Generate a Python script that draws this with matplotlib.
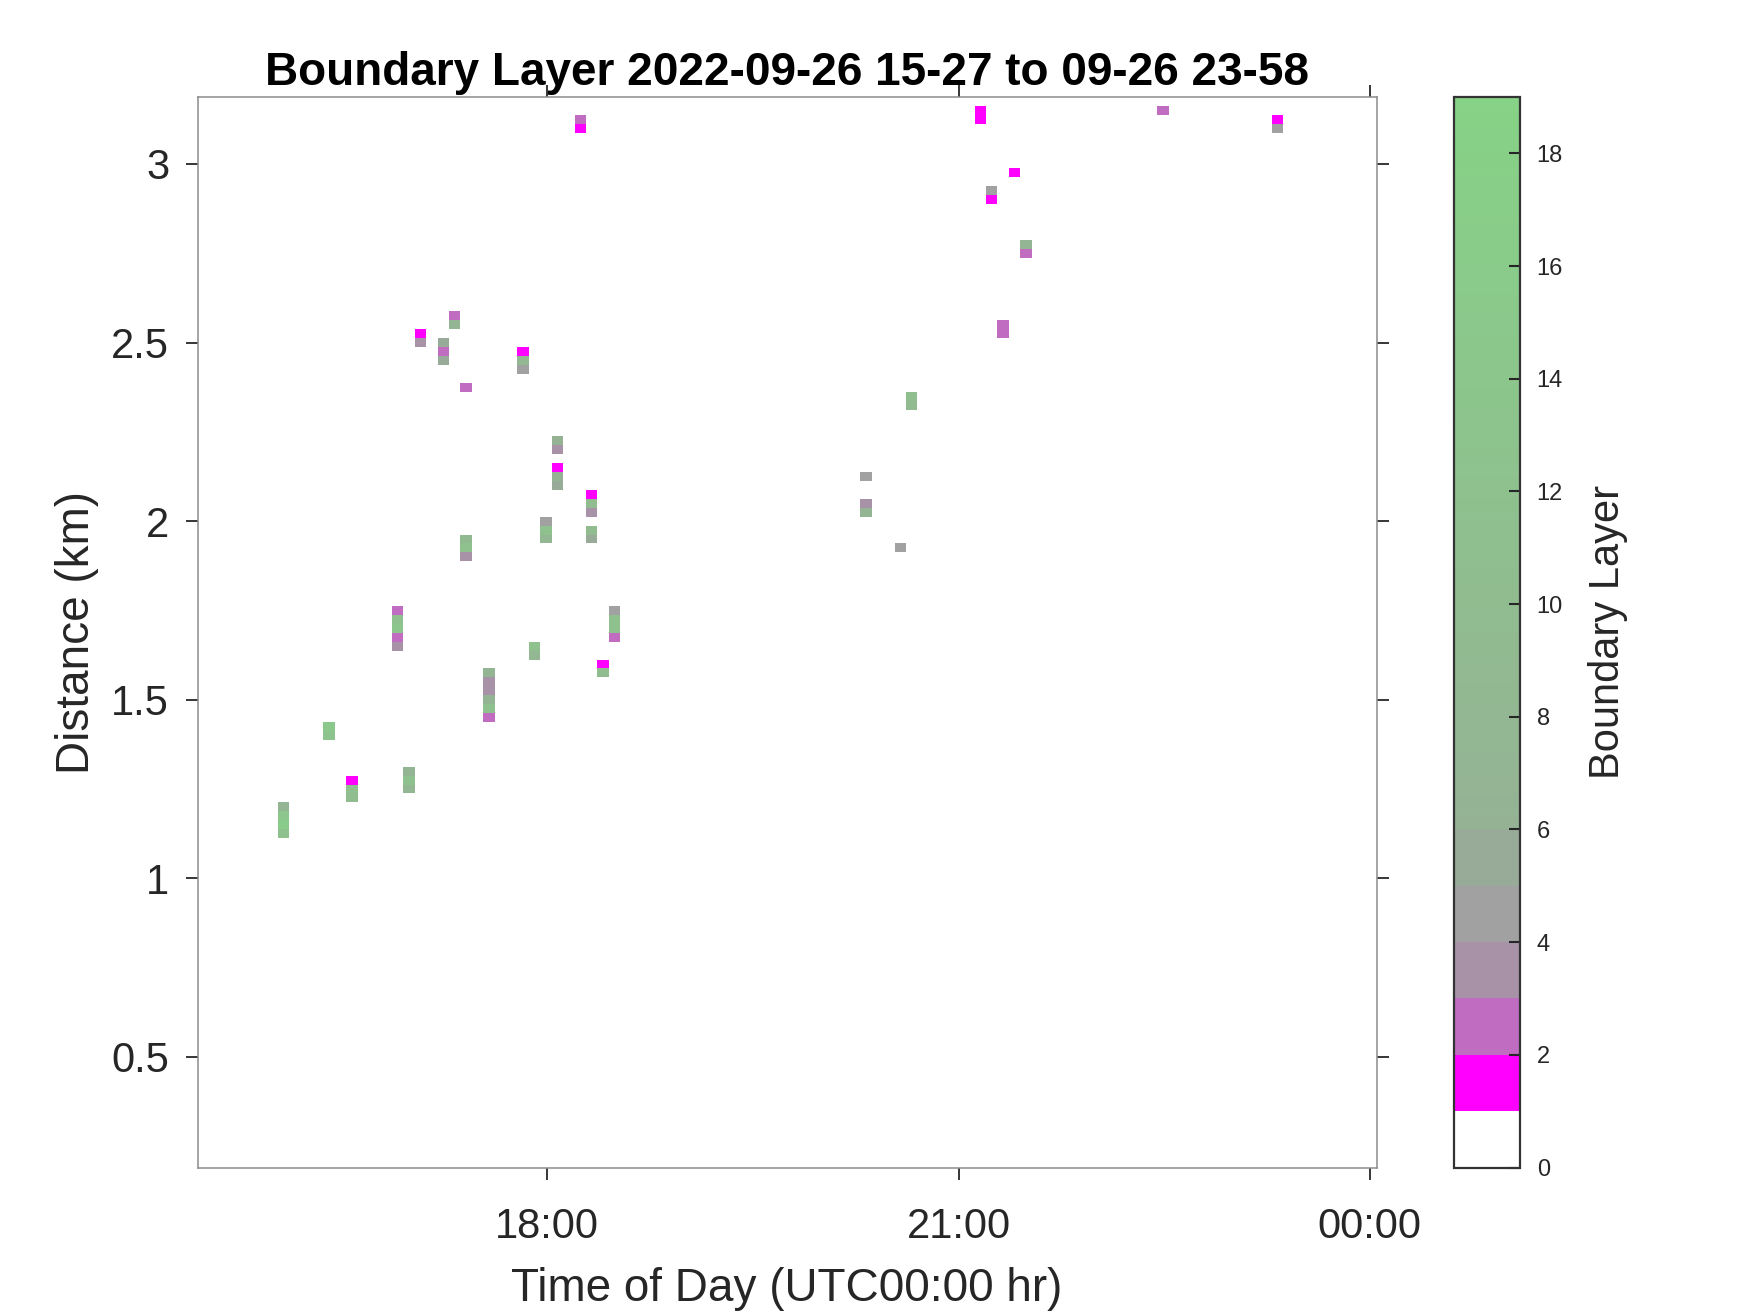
import numpy as np
import matplotlib
matplotlib.use('Agg')
import matplotlib.pyplot as plt
from matplotlib.colors import ListedColormap, Normalize

# ── Data: 5-min time bins (bin start), 25 m range bins (centre), layer value ─
times = ['16:02', '16:02', '16:02', '16:02',
         '16:22', '16:22',
         '16:32', '16:32', '16:32',
         '16:52', '16:52', '16:52', '16:52', '16:52',
         '16:57', '16:57', '16:57',
         '17:02', '17:02',
         '17:12', '17:12', '17:12',
         '17:17', '17:17',
         '17:22', '17:22', '17:22', '17:22',
         '17:32', '17:32', '17:32', '17:32', '17:32', '17:32',
         '17:47', '17:47', '17:47',
         '17:52', '17:52',
         '17:57', '17:57', '17:57',
         '18:02', '18:02', '18:02', '18:02', '18:02',
         '18:12', '18:12',
         '18:17', '18:17', '18:17', '18:17', '18:17',
         '18:22', '18:22',
         '18:27', '18:27', '18:27', '18:27',
         '20:17', '20:17', '20:17',
         '20:32',
         '20:37', '20:37',
         '21:07', '21:07',
         '21:12', '21:12',
         '21:17', '21:17',
         '21:22',
         '21:27', '21:27',
         '22:27',
         '23:17', '23:17']
dist_km = [1.200, 1.175, 1.150, 1.125,
           1.425, 1.400,
           1.275, 1.250, 1.225,
           1.750, 1.725, 1.700, 1.675, 1.650,
           1.300, 1.275, 1.250,
           2.525, 2.500,
           2.500, 2.475, 2.450,
           2.575, 2.550,
           2.375, 1.950, 1.925, 1.900,
           1.575, 1.550, 1.525, 1.500, 1.475, 1.450,
           2.475, 2.450, 2.425,
           1.650, 1.625,
           2.000, 1.975, 1.950,
           2.225, 2.200, 2.150, 2.125, 2.100,
           3.125, 3.100,
           2.075, 2.050, 2.025, 1.975, 1.950,
           1.600, 1.575,
           1.750, 1.725, 1.700, 1.675,
           2.125, 2.050, 2.025,
           1.925,
           2.350, 2.325,
           3.150, 3.125,
           2.925, 2.900,
           2.550, 2.525,
           2.975,
           2.775, 2.750,
           3.150,
           3.125, 3.100]
layer = [7, 14, 16, 12,
         15, 13,
         1, 12, 10,
         2, 12, 14, 2, 3,
         7, 12, 8,
         1, 3,
         5, 2, 5,
         2, 7,
         2, 9, 12, 3,
         7, 3, 3, 7, 12, 2,
         1, 8, 4,
         12, 8,
         4, 12, 8,
         6, 3, 1, 6, 5,
         2, 1,
         1, 10, 3, 10, 5,
         1, 10,
         4, 12, 12, 2,
         4, 3, 7,
         4,
         11, 9,
         1, 1,
         4, 1,
         2, 2,
         1,
         7, 2,
         2,
         1, 4]

T_START   = 15 + 27 / 60      # 15:27
T_STEP    = 5 / 60            # 5 min
N_T       = 104
R_STEP    = 0.025             # km
R_MIN     = 0.2
R_MAX     = 3.175

title_str = 'Boundary Layer 2022-09-26 15-27 to 09-26 23-58'

# ── Grid ──────────────────────────────────────────────────────────────────────
t_edges = T_START + T_STEP * np.arange(N_T + 1)
r_cent  = np.arange(R_MIN, R_MAX + 1e-9, R_STEP)
r_edges = np.append(r_cent - R_STEP / 2, r_cent[-1] + R_STEP / 2)
grid    = np.full((len(r_cent), N_T), np.nan)

for t, r, v in zip(times, dist_km, layer):
    hh, mm = t.split(':')
    ti = int(round((int(hh) + int(mm) / 60 - T_START) / T_STEP))
    ri = int(round((r - R_MIN) / R_STEP))
    grid[ri, ti] = v

# ── Colormap: white, magenta, then purple -> gray -> green ───────────────────
steps  = 8
low    = [(255, 255, 255), (255, 0, 255), (192, 108, 192), (168, 146, 168),
          (160, 161, 160), (152, 170, 152)]
c6, c19 = np.array([149, 178, 149]), np.array([134, 210, 134])
cols = []
for i in range(19 * steps):
    v = (i + 0.5) / steps
    if v < 6:
        cols.append(np.array(low[int(v)]) / 255)
    else:
        f = (v - 6) / 13
        cols.append((c6 + f * (c19 - c6)) / 255)
cmap = ListedColormap(cols)
norm = Normalize(vmin=0, vmax=19)

# ── Figure ────────────────────────────────────────────────────────────────────
plt.rcParams['font.family'] = ['Liberation Sans', 'DejaVu Sans']
fig = plt.figure(figsize=(17.5, 13.13), dpi=100)
ax  = fig.add_axes([0.1129, 0.1101, 0.6738, 0.8160])
cax = fig.add_axes([0.8309, 0.1108, 0.0377, 0.8153])

mesh = ax.pcolormesh(t_edges, r_edges, np.ma.masked_invalid(grid),
                     cmap=cmap, norm=norm, shading='flat')

ax.set_xlim(15.45, 24.05)
ax.set_ylim(0.1875, 3.1875)
ax.set_xticks([18, 21, 24])
ax.set_xticklabels(['18:00', '21:00', '00:00'])
ax.set_yticks([0.5, 1, 1.5, 2, 2.5, 3])
ax.set_yticklabels(['0.5', '1', '1.5', '2', '2.5', '3'])
ax.tick_params(direction='out', length=8.5, width=1.3, color='#262626',
               labelcolor='#262626', labelsize=30,
               top=True, right=True)
ax.tick_params(axis='x', pad=19)
ax.tick_params(axis='y', pad=12)
for s in ax.spines.values():
    s.set_color('#8c8c8c')
    s.set_linewidth(1.1)

ax.set_xlabel('Time of Day (UTC00:00 hr)', fontsize=33, color='#262626', labelpad=15)
ax.set_ylabel('Distance (km)', fontsize=33, color='#262626', labelpad=9)
ax.set_title(title_str, fontsize=33, fontweight='bold', color='black', pad=9)

cb = fig.colorbar(mesh, cax=cax, ticks=np.arange(0, 19, 2))
cb.outline.set_edgecolor('#333333')
cb.outline.set_linewidth(1.6)
cax.tick_params(direction='in', length=8, width=1.5, color='#262626',
                labelcolor='#262626', labelsize=17, pad=12)
cb.set_label('Boundary Layer', fontsize=30, color='#262626', labelpad=18)

fig.savefig('out.png', dpi=100, facecolor='white')
